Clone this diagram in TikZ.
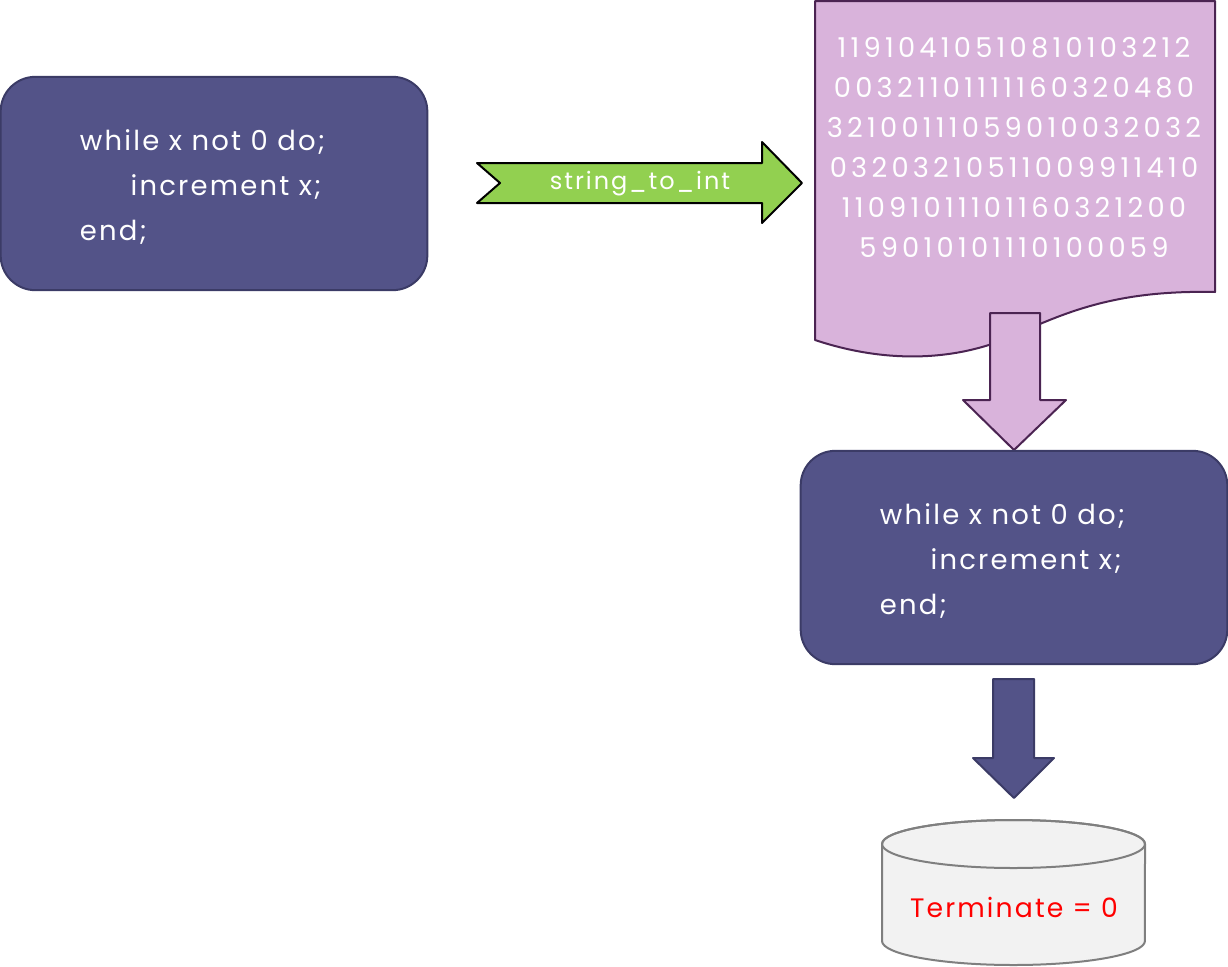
\documentclass[tikz,border=0pt]{standalone}
\usepackage{fontspec}
\setmainfont{Poppins}
\newfontfamily\widefont[LetterSpace=8]{Poppins}
\newfontfamily\digitfont[LetterSpace=15.5]{Poppins}
\usetikzlibrary{positioning}

\definecolor{navy}{HTML}{535388}
\definecolor{navyline}{HTML}{3B3B66}
\definecolor{lilac}{HTML}{D9B3DB}
\definecolor{lilacline}{HTML}{4B2452}
\definecolor{leaf}{HTML}{92D050}
\definecolor{drum}{HTML}{F2F2F2}
\definecolor{drumline}{HTML}{7F7F7F}

\tikzset{
  codebox/.style={draw=navyline, fill=navy, line width=1.5pt, rounded corners=26pt,
    minimum width=320pt, minimum height=160pt},
  codetext/.style={text=white, align=left, inner sep=0pt,
    font=\widefont\fontsize{20.6}{33.75}\selectfont},
  blockarrow/.style={line width=1.5pt, line join=round}
}

\begin{document}
\begin{tikzpicture}[x=0.75pt,y=-0.75pt]
  \useasboundingbox (0,0) rectangle (1228,967);

  % Source program
  \node[codebox] (code) at (214,183.5) {};
  \node[codetext, right=60pt of code.west, anchor=west, yshift=-3pt] (codetxt)
    {while x not 0 do;\\\hspace*{38pt}increment x;\\end;};

  % Conversion arrow
  \draw[blockarrow, fill=leaf, draw=black] (477,163) -- (762,163) -- (762,142) -- (802,183)
    -- (762,223) -- (762,203) -- (477,203) -- (500,183) -- cycle;
  \node[text=white, font=\widefont\fontsize{18}{20}\selectfont] (conv) at (640,184) {string\_to\_int};

  % Integer encoding
  \draw[blockarrow, fill=lilac, draw=lilacline] (815,1) -- (1215,1) -- (1215,292)
    .. controls (1120,290) and (1070,310) .. (1015,335)
    .. controls (960,360) and (890,365) .. (815,340) -- cycle;
  \node[text=white, align=center, font=\digitfont\fontsize{20.5}{30}\selectfont] (bytes) at (1014,147)
    {11910410510810103212\\00321101111160320480\\32100111059010032032\\
     03203210511009911410\\11091011101160321200\\59010101110100059};

  \draw[blockarrow, fill=lilac, draw=lilacline] (990,313) -- (1040,313) -- (1040,400)
    -- (1066,400) -- (1014,450) -- (963,400) -- (990,400) -- cycle;

  % Program again
  \node[codebox] (code2) at (1014,557.5) {};
  \node[codetext, right=60pt of code2.west, anchor=west, yshift=-3pt] (codetxt2)
    {while x not 0 do;\\\hspace*{38pt}increment x;\\end;};

  \draw[blockarrow, fill=navy, draw=navyline] (993,679) -- (1034,679) -- (1034,758)
    -- (1054,758) -- (1014,798) -- (973,758) -- (993,758) -- cycle;

  % Result
  \draw[line width=1.5pt, fill=drum, draw=drumline] (882,844) -- (882,941)
    arc[start angle=180, end angle=360, x radius=98.6pt, y radius=18pt] -- (1145,844)
    arc[start angle=0, end angle=180, x radius=98.6pt, y radius=18pt] -- cycle;
  \draw[line width=1.5pt, draw=drumline] (1013.5,844) ellipse [x radius=98.6pt, y radius=18pt];
  \node[text=red, font=\widefont\fontsize{20}{22}\selectfont] (db) at (1014,907) {Terminate = 0};
\end{tikzpicture}
\end{document}
